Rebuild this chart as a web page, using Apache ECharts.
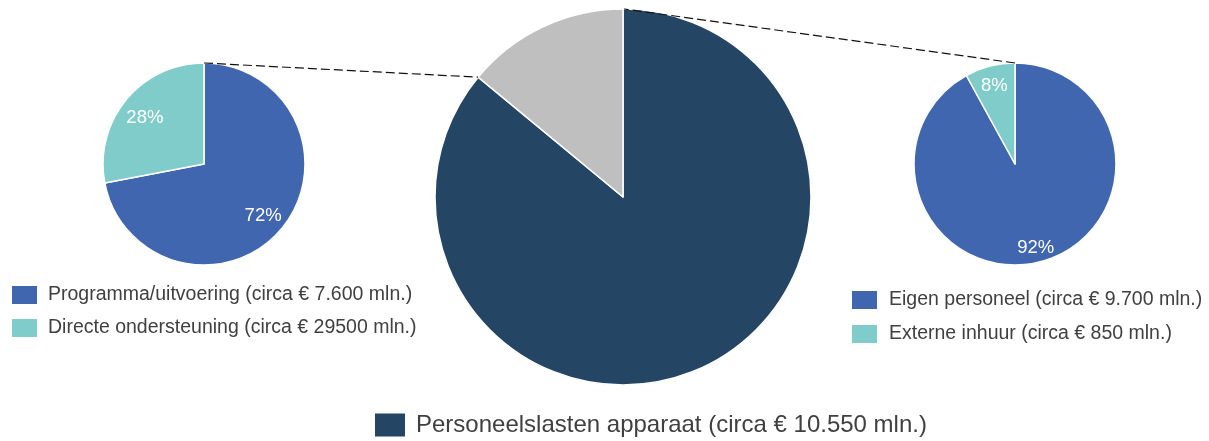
<!DOCTYPE html>
<html>
<head>
<meta charset="utf-8">
<script src="https://cdn.jsdelivr.net/npm/echarts@6/dist/echarts.min.js"></script>
<style>html,body{margin:0;padding:0;background:#fff}#c{width:1209px;height:441px}</style>
</head>
<body>
<div id="c"></div>
<script>
// ---- data ----
var leftNames = ['Programma/uitvoering (circa € 7.600 mln.)', 'Directe ondersteuning (circa € 29500 mln.)'];
var leftValues = [72, 28];
var rightNames = ['Eigen personeel (circa € 9.700 mln.)', 'Externe inhuur (circa € 850 mln.)'];
var rightValues = [92, 8];
var centerNames = ['Personeelslasten apparaat (circa € 10.550 mln.)', 'Overig'];
var centerValues = [86, 14];

// ---- style ----
var BLUE = '#4066B0', TEAL = '#7FCCCB', NAVY = '#254565', GREY = '#BFBFBF';
var FONT = '"Liberation Sans", Arial, sans-serif';
var TXT = '#404040';

var L = {c: [204, 164], r: 101, inner: 0.46};
var R = {c: [1015, 164], r: 101, inner: 0.59};
var C = {c: [623, 197], r: 188};

function mk(names, values, colors) {
  return names.map(function (n, i) { return {name: n, value: values[i], itemStyle: {color: colors[i]}}; });
}
function mkLabel(names, values) {
  return names.map(function (n, i) { return {name: n, value: values[i]}; });
}
function pie(geo, data) {
  return {
    type: 'pie', center: geo.c, radius: geo.r, startAngle: 90, clockwise: true,
    silent: true, animation: false, label: {show: false}, labelLine: {show: false},
    itemStyle: {borderColor: '#fff', borderWidth: 1.5}, data: data
  };
}
function labelPie(geo, names, values) {
  return {
    type: 'pie', center: geo.c, radius: [geo.r * geo.inner, geo.r], startAngle: 90, clockwise: true,
    silent: true, animation: false, legendHoverLink: false,
    itemStyle: {color: 'rgba(0,0,0,0)', borderWidth: 0},
    label: {show: true, position: 'inside', color: '#fff', fontFamily: FONT, fontSize: 18.5, offset: [0, 3],
      formatter: function (p) { return p.value + '%'; }},
    labelLine: {show: false}, data: mkLabel(names, values)
  };
}

// connector lines derived from pie geometry and data
var darkShare = centerValues[0] / (centerValues[0] + centerValues[1]);
var th = darkShare * 2 * Math.PI;
var greyEdge = [C.c[0] + C.r * Math.sin(th), C.c[1] - C.r * Math.cos(th)];
var centerTop = [C.c[0] + 1, C.c[1] - C.r];
var lineStyle = {stroke: '#111', lineWidth: 1.2, lineDash: [9, 4]};

var chart = echarts.init(document.getElementById('c'), null, {renderer: 'canvas'});
chart.setOption({
  animation: false,
  legend: [
    {data: leftNames, orient: 'vertical', left: 7, top: 280, itemWidth: 25, itemHeight: 18, itemGap: 13,
      icon: 'rect', selectedMode: false, itemStyle: {borderWidth: 0},
      textStyle: {fontFamily: FONT, fontSize: 19.5, color: TXT, padding: [0, 0, 0, 6]}},
    {data: rightNames, orient: 'vertical', left: 847, top: 285, itemWidth: 25, itemHeight: 18, itemGap: 14,
      icon: 'rect', selectedMode: false, itemStyle: {borderWidth: 0},
      textStyle: {fontFamily: FONT, fontSize: 19.5, color: TXT, padding: [0, 0, 0, 7]}},
    {data: [centerNames[0]], orient: 'horizontal', left: 370, top: 408, itemWidth: 30, itemHeight: 23,
      icon: 'rect', selectedMode: false, itemStyle: {borderWidth: 0},
      textStyle: {fontFamily: FONT, fontSize: 24, color: TXT, padding: [0, 0, 0, 6]}}
  ],
  graphic: [
    {type: 'line', shape: {x1: L.c[0], y1: L.c[1] - L.r, x2: greyEdge[0], y2: greyEdge[1]}, style: lineStyle, z: 10, silent: true},
    {type: 'line', shape: {x1: R.c[0], y1: R.c[1] - R.r, x2: centerTop[0], y2: centerTop[1]}, style: lineStyle, z: 10, silent: true}
  ],
  series: [
    pie(C, mk(centerNames, centerValues, [NAVY, GREY])),
    pie(L, mk(leftNames, leftValues, [BLUE, TEAL])),
    pie(R, mk(rightNames, rightValues, [BLUE, TEAL])),
    labelPie(L, leftNames, leftValues),
    labelPie(R, rightNames, rightValues)
  ]
});
</script>
</body>
</html>
